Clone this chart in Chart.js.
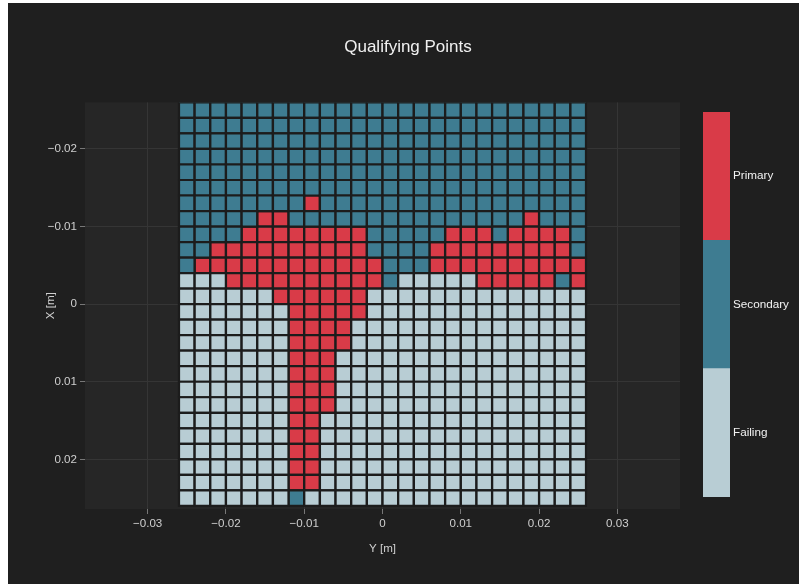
<!DOCTYPE html>
<html>
<head>
<meta charset="utf-8">
<script src="https://cdn.jsdelivr.net/npm/chart.js@4.4.1/dist/chart.umd.min.js"></script>
<style>
  html, body { margin: 0; padding: 0; background: #ffffff; width: 799px; height: 584px; overflow: hidden; }
  #wrap { position: absolute; left: 8px; top: 3px; width: 791px; height: 581px; background: #1f1f1f; }
  #main { position: absolute; left: 0; top: 0; }
  #cbar { position: absolute; left: 695px; top: 109px; }
</style>
</head>
<body>
<div id="wrap">
  <canvas id="main" width="791" height="581"></canvas>
  <canvas id="cbar" width="96" height="385"></canvas>
</div>
<script>
// ---- data ----
// cell centres along the horizontal axis ("Y [m]")
const hCentres = [-0.025, -0.023, -0.021, -0.019, -0.017, -0.015, -0.013, -0.011, -0.009, -0.007, -0.005, -0.003, -0.001,
                   0.001,  0.003,  0.005,  0.007,  0.009,  0.011,  0.013,  0.015,  0.017,  0.019,  0.021,  0.023,  0.025];
// cell centres along the vertical axis ("X [m]"), top row first
const vCentres = [-0.025, -0.023, -0.021, -0.019, -0.017, -0.015, -0.013, -0.011, -0.009, -0.007, -0.005, -0.003, -0.001,
                   0.001,  0.003,  0.005,  0.007,  0.009,  0.011,  0.013,  0.015,  0.017,  0.019,  0.021,  0.023,  0.025];
const statusNames  = ['Failing', 'Secondary', 'Primary'];
const statusCodes  = ['F', 'S', 'P'];
const statusColors = ['#b8cdd4', '#3e7c91', '#d93b48'];
// one string per row (top to bottom), one letter per column (left to right)
const statusRows = [
  'SSSSSSSSSSSSSSSSSSSSSSSSSS',
  'SSSSSSSSSSSSSSSSSSSSSSSSSS',
  'SSSSSSSSSSSSSSSSSSSSSSSSSS',
  'SSSSSSSSSSSSSSSSSSSSSSSSSS',
  'SSSSSSSSSSSSSSSSSSSSSSSSSS',
  'SSSSSSSSSSSSSSSSSSSSSSSSSS',
  'SSSSSSSSPSSSSSSSSSSSSSSSSS',
  'SSSSSPPSSSSSSSSSSSSSSSPSSS',
  'SSSSPPPPPPPPSSSSSPPPSPPPPS',
  'SSPPPPPPPPPPSSSSPPPPPPPPPS',
  'SPPPPPPPPPPPPSSSPPPPPPPPPP',
  'FFFPPPPPPPPPPSFFFFFPPPPPSP',
  'FFFFFFPPPPPPFFFFFFFFFFFFFF',
  'FFFFFFFPPPPPFFFFFFFFFFFFFF',
  'FFFFFFFPPPPFFFFFFFFFFFFFFF',
  'FFFFFFFPPPPFFFFFFFFFFFFFFF',
  'FFFFFFFPPPFFFFFFFFFFFFFFFF',
  'FFFFFFFPPPFFFFFFFFFFFFFFFF',
  'FFFFFFFPPPFFFFFFFFFFFFFFFF',
  'FFFFFFFPPPFFFFFFFFFFFFFFFF',
  'FFFFFFFPPFFFFFFFFFFFFFFFFF',
  'FFFFFFFPPFFFFFFFFFFFFFFFFF',
  'FFFFFFFPPFFFFFFFFFFFFFFFFF',
  'FFFFFFFPPFFFFFFFFFFFFFFFFF',
  'FFFFFFFPPFFFFFFFFFFFFFFFFF',
  'FFFFFFFSFFFFFFFFFFFFFFFFFF'
];
const hTickValues = [-0.03, -0.02, -0.01, 0, 0.01, 0.02, 0.03];
const hTickLabels = ['\u22120.03', '\u22120.02', '\u22120.01', '0', '0.01', '0.02', '0.03'];
const vTickValues = [-0.02, -0.01, 0, 0.01, 0.02];
const vTickLabels = ['\u22120.02', '\u22120.01', '0', '0.01', '0.02'];
const colorbarSpans = [1, 1, 1];
const colorbarTickValues = [0.5, 1.5, 2.5];

// ---- chart ----
const FONT = "'Liberation Sans', Arial, sans-serif";
const TXT = '#cfcfcf';

function cellSide(chart) {
  const xs = chart.scales.x, ys = chart.scales.y;
  const w = Math.abs(xs.getPixelForValue(hCentres[1]) - xs.getPixelForValue(hCentres[0]));
  const h = Math.abs(ys.getPixelForValue(vCentres[1]) - ys.getPixelForValue(vCentres[0]));
  return Math.min(w, h);
}

const datasets = statusCodes.map((code, si) => {
  const pts = [];
  statusRows.forEach((row, ri) => {
    for (let ci = 0; ci < row.length; ci++) {
      if (row[ci] === code) pts.push({ x: hCentres[ci], y: vCentres[ri] });
    }
  });
  const r = (ctx) => cellSide(ctx.chart) / Math.SQRT2;
  return {
    label: statusNames[si],
    data: pts,
    pointStyle: 'rect',
    pointRadius: r,
    pointHoverRadius: r,
    pointBackgroundColor: statusColors[si],
    pointBorderColor: '#1c1c1c',
    pointBorderWidth: 2.2,
    pointHoverBorderWidth: 2.2,
    backgroundColor: statusColors[si],
    borderColor: '#1c1c1c',
    showLine: false
  };
});

const plotBg = {
  id: 'plotBg',
  beforeDraw(chart) {
    const { ctx, chartArea: a } = chart;
    ctx.save();
    ctx.fillStyle = '#262626';
    ctx.fillRect(a.left, a.top, a.right - a.left, a.bottom - a.top);
    ctx.restore();
  }
};

new Chart(document.getElementById('main'), {
  type: 'scatter',
  data: { datasets },
  plugins: [plotBg],
  options: {
    responsive: false,
    animation: false,
    layout: { padding: { left: 9, right: 0, top: 0, bottom: 0 } },
    plugins: {
      legend: { display: false },
      tooltip: { enabled: false },
      title: {
        display: true,
        text: 'Qualifying Points',
        color: '#f0f0f0',
        font: { family: FONT, size: 17, weight: 'normal' },
        padding: { top: 34, bottom: 45 }
      }
    },
    scales: {
      x: {
        type: 'linear',
        min: -0.038,
        max: 0.038,
        afterBuildTicks: (s) => { s.ticks = hTickValues.map(v => ({ value: v })); },
        ticks: {
          callback: (v, i) => hTickLabels[i],
          color: TXT,
          font: { family: FONT, size: 11.6 },
          padding: 3,
          maxRotation: 0,
          autoSkip: false
        },
        grid: { color: '#353535', tickColor: '#777777', tickLength: 5, lineWidth: 1 },
        border: { display: false },
        title: {
          display: true,
          text: 'Y [m]',
          color: TXT,
          font: { family: FONT, size: 11.6 },
          padding: { top: 0, bottom: 28 }
        },
        afterFit: (s) => { s.height = 75; }
      },
      y: {
        type: 'linear',
        reverse: true,
        min: -0.026,
        max: 0.0264,
        afterBuildTicks: (s) => { s.ticks = vTickValues.map(v => ({ value: v })); },
        ticks: {
          callback: (v, i) => vTickLabels[i],
          color: TXT,
          font: { family: FONT, size: 11.6 },
          padding: 3,
          autoSkip: false
        },
        grid: { color: '#353535', tickColor: '#777777', tickLength: 5, lineWidth: 1 },
        border: { display: false },
        title: {
          display: true,
          text: 'X [m]',
          color: TXT,
          font: { family: FONT, size: 11.6 },
          padding: { top: 27, bottom: 0 }
        },
        afterFit: (s) => { s.width = 68; }
      },
      yr: {
        type: 'linear',
        axis: 'y',
        position: 'right',
        display: true,
        grid: { display: false },
        ticks: { display: false },
        border: { display: false },
        afterFit: (s) => { s.width = 119; }
      }
    }
  }
});

new Chart(document.getElementById('cbar'), {
  type: 'bar',
  data: {
    labels: [''],
    datasets: statusNames.map((n, i) => ({
      label: n,
      data: [colorbarSpans[i]],
      backgroundColor: statusColors[i],
      borderWidth: 0,
      barPercentage: 1,
      categoryPercentage: 1
    }))
  },
  options: {
    responsive: false,
    animation: false,
    layout: { padding: 0 },
    plugins: { legend: { display: false }, tooltip: { enabled: false } },
    scales: {
      x: { stacked: true, display: false },
      y: {
        stacked: true,
        min: 0,
        max: 3,
        position: 'right',
        grid: { display: false, drawTicks: false, tickLength: 0 },
        border: { display: false },
        afterBuildTicks: (s) => { s.ticks = colorbarTickValues.map(v => ({ value: v })); },
        ticks: {
          callback: (v, i) => statusNames[i],
          color: '#f2f2f2',
          font: { family: FONT, size: 11.7 },
          padding: 3
        },
        afterFit: (s) => { s.width = 69; s.paddingTop = 0; s.paddingBottom = 0; }
      }
    }
  }
});
</script>
</body>
</html>
